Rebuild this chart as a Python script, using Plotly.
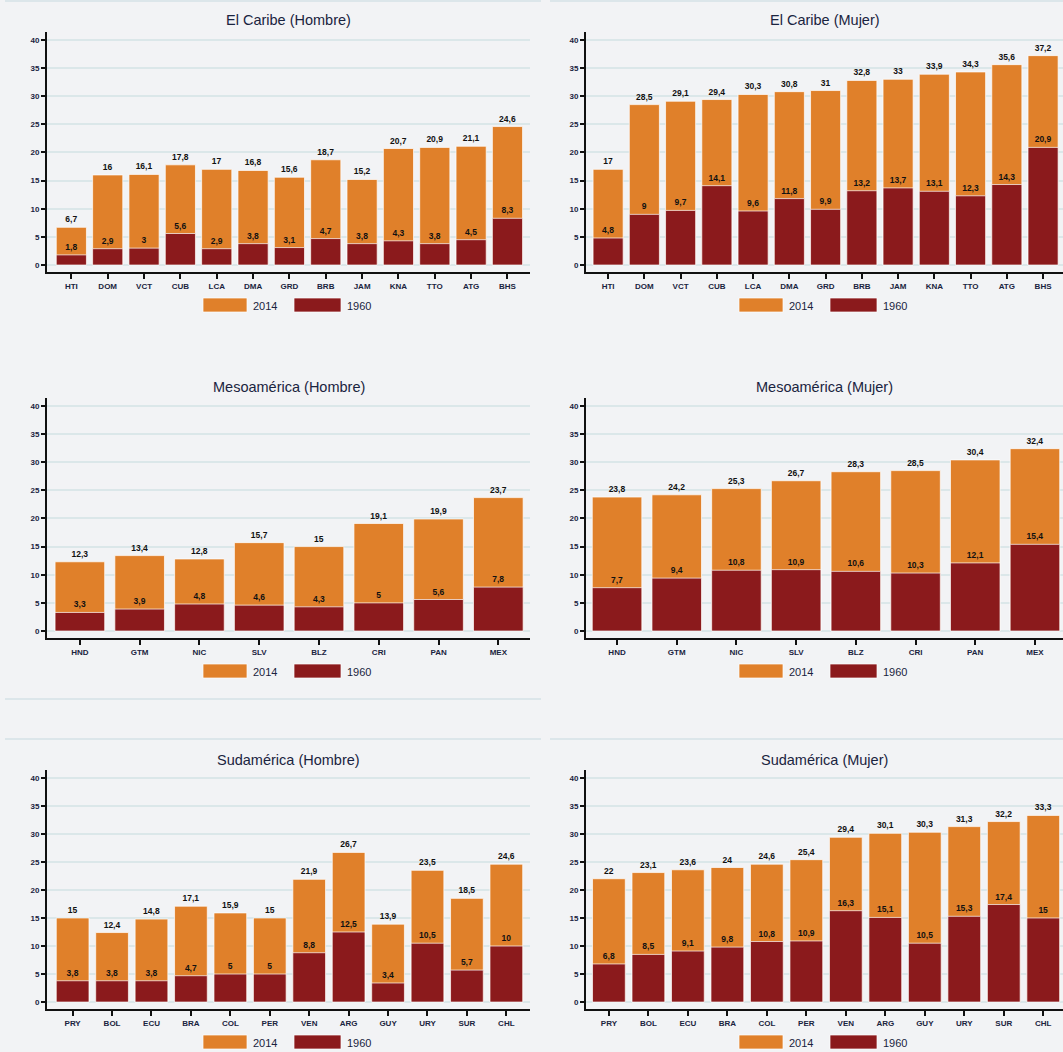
import plotly.graph_objects as go
from plotly.subplots import make_subplots

# ---- data (valores en %, 1960 vs 2014) ----
car_paises = ['HTI', 'DOM', 'VCT', 'CUB', 'LCA', 'DMA', 'GRD', 'BRB', 'JAM', 'KNA', 'TTO', 'ATG', 'BHS']
car_h_2014 = [6.7, 16, 16.1, 17.8, 17, 16.8, 15.6, 18.7, 15.2, 20.7, 20.9, 21.1, 24.6]
car_h_1960 = [1.8, 2.9, 3, 5.6, 2.9, 3.8, 3.1, 4.7, 3.8, 4.3, 3.8, 4.5, 8.3]
car_m_2014 = [17, 28.5, 29.1, 29.4, 30.3, 30.8, 31, 32.8, 33, 33.9, 34.3, 35.6, 37.2]
car_m_1960 = [4.8, 9, 9.7, 14.1, 9.6, 11.8, 9.9, 13.2, 13.7, 13.1, 12.3, 14.3, 20.9]

meso_paises = ['HND', 'GTM', 'NIC', 'SLV', 'BLZ', 'CRI', 'PAN', 'MEX']
meso_h_2014 = [12.3, 13.4, 12.8, 15.7, 15, 19.1, 19.9, 23.7]
meso_h_1960 = [3.3, 3.9, 4.8, 4.6, 4.3, 5, 5.6, 7.8]
meso_m_2014 = [23.8, 24.2, 25.3, 26.7, 28.3, 28.5, 30.4, 32.4]
meso_m_1960 = [7.7, 9.4, 10.8, 10.9, 10.6, 10.3, 12.1, 15.4]

sud_paises = ['PRY', 'BOL', 'ECU', 'BRA', 'COL', 'PER', 'VEN', 'ARG', 'GUY', 'URY', 'SUR', 'CHL']
sud_h_2014 = [15, 12.4, 14.8, 17.1, 15.9, 15, 21.9, 26.7, 13.9, 23.5, 18.5, 24.6]
sud_h_1960 = [3.8, 3.8, 3.8, 4.7, 5, 5, 8.8, 12.5, 3.4, 10.5, 5.7, 10]
sud_m_2014 = [22, 23.1, 23.6, 24, 24.6, 25.4, 29.4, 30.1, 30.3, 31.3, 32.2, 33.3]
sud_m_1960 = [6.8, 8.5, 9.1, 9.8, 10.8, 10.9, 16.3, 15.1, 10.5, 15.3, 17.4, 15]

titulos = ['El Caribe (Hombre)', 'El Caribe (Mujer)',
           'Mesoamérica (Hombre)', 'Mesoamérica (Mujer)',
           'Sudamérica (Hombre)', 'Sudamérica (Mujer)']

NARANJA = '#e0802a'
ROJO = '#8b1a1c'
FONDO = '#f2f3f5'
FONT = 'Liberation Sans, Arial, sans-serif'
W, H = 1063, 1052


def etiqueta(v):
    return f'{v:g}'.replace('.', ',')


def px(x):
    return x / W


def py(y):
    return 1 - y / H


paneles = [
    (1, 1, car_paises, car_h_2014, car_h_1960, [-0.67, 12.62]),
    (1, 2, car_paises, car_m_2014, car_m_1960, [-0.61, 12.55]),
    (2, 1, meso_paises, meso_h_2014, meso_h_1960, [-0.55, 7.53]),
    (2, 2, meso_paises, meso_m_2014, meso_m_1960, [-0.52, 7.47]),
    (3, 1, sud_paises, sud_h_2014, sud_h_1960, [-0.65, 11.6]),
    (3, 2, sud_paises, sud_m_2014, sud_m_1960, [-0.58, 11.5]),
]

fig = make_subplots(rows=3, cols=2)

# pixel layout of each plot area
col_x = {1: (47, 530), 2: (586, 1063)}
row_y = {1: (32, 272), 2: (398, 638), 3: (770, 1009)}
title_y = {1: 20, 2: 387, 3: 760}
legend_y = {1: 305, 2: 671, 3: 1042}

txtfont = dict(size=8.5, color='#111', family=FONT, weight='bold')
tickfont = dict(size=8, color='#1a2440', family=FONT, weight='bold')

for i, (r, c, paises, v2014, v1960, xr) in enumerate(paneles):
    fig.add_trace(go.Bar(x=paises, y=v2014, name='2014', marker_color=NARANJA,
                         marker_line=dict(color='rgba(255,255,255,0.7)', width=1),
                         text=[etiqueta(v) for v in v2014], textposition='outside',
                         textfont=txtfont, constraintext='none', cliponaxis=False,
                         width=0.83, showlegend=False), row=r, col=c)
    fig.add_trace(go.Bar(x=paises, y=v1960, name='1960', marker_color=ROJO,
                         marker_line=dict(color='rgba(255,255,255,0.7)', width=1),
                         text=[etiqueta(v) for v in v1960], textposition='outside',
                         textfont=txtfont, constraintext='none', cliponaxis=False,
                         width=0.83, showlegend=False), row=r, col=c)

    x0, x1 = col_x[c]
    y0, y1 = row_y[r]
    fig.update_xaxes(domain=[px(x0), min(px(x1), 1)], range=xr,
                     showline=True, linecolor='#111', linewidth=2,
                     ticks='outside', ticklen=5, tickwidth=1.5, tickcolor='#111',
                     tickfont=tickfont, showgrid=False, row=r, col=c)
    fig.update_yaxes(domain=[py(y1), py(y0)], range=[-1.24, 41.4],
                     tickvals=list(range(0, 45, 5)),
                     showline=True, linecolor='#111', linewidth=2,
                     ticks='outside', ticklen=4, tickwidth=1.5, tickcolor='#111',
                     tickfont=tickfont, showgrid=True, gridcolor='#dbe7e9', gridwidth=1.5,
                     zeroline=False, row=r, col=c)

    # title
    fig.add_annotation(x=px((x0 + min(x1, W)) / 2), y=py(title_y[r]), xref='paper', yref='paper',
                       text=titulos[i], showarrow=False, xanchor='center', yanchor='middle',
                       font=dict(size=14.5, color='#1a2440', family=FONT))

    # legend (boxes + labels) below each panel
    off = 0 if c == 1 else 536
    ly = legend_y[r]
    for (bx0, bx1, tx, color, lab) in [(203, 247, 251, NARANJA, '2014'),
                                         (294, 341, 345, ROJO, '1960')]:
        fig.add_shape(type='rect', xref='paper', yref='paper',
                      x0=px(bx0 + off), x1=px(bx1 + off), y0=py(ly + 7), y1=py(ly - 7),
                      fillcolor=color, line=dict(color='rgba(255,255,255,0.7)', width=1))
        fig.add_annotation(x=px(tx + off), y=py(ly + 1), xref='paper', yref='paper',
                           text=lab, showarrow=False, xanchor='left', yanchor='middle',
                           font=dict(size=11, color='#1a2440', family=FONT))

# faint separators between graph regions
for (sx0, sx1, sy) in [(5, 541, 1), (550, 1063, 1), (5, 541, 699), (5, 541, 739), (550, 1063, 739)]:
    fig.add_shape(type='line', xref='paper', yref='paper',
                  x0=px(sx0), x1=px(sx1), y0=py(sy), y1=py(sy),
                  line=dict(color='#dce6ea', width=2))

fig.update_layout(width=W, height=H, margin=dict(l=0, r=0, t=0, b=0),
                  barmode='overlay', bargap=0.17,
                  paper_bgcolor=FONDO, plot_bgcolor=FONDO,
                  font=dict(family=FONT))

# remove the default page margin so the figure sits at the window's corner
fig.write_html('out.html', config={'displayModeBar': False},
               post_script="document.body.style.margin='0';document.body.style.overflow='hidden';")
